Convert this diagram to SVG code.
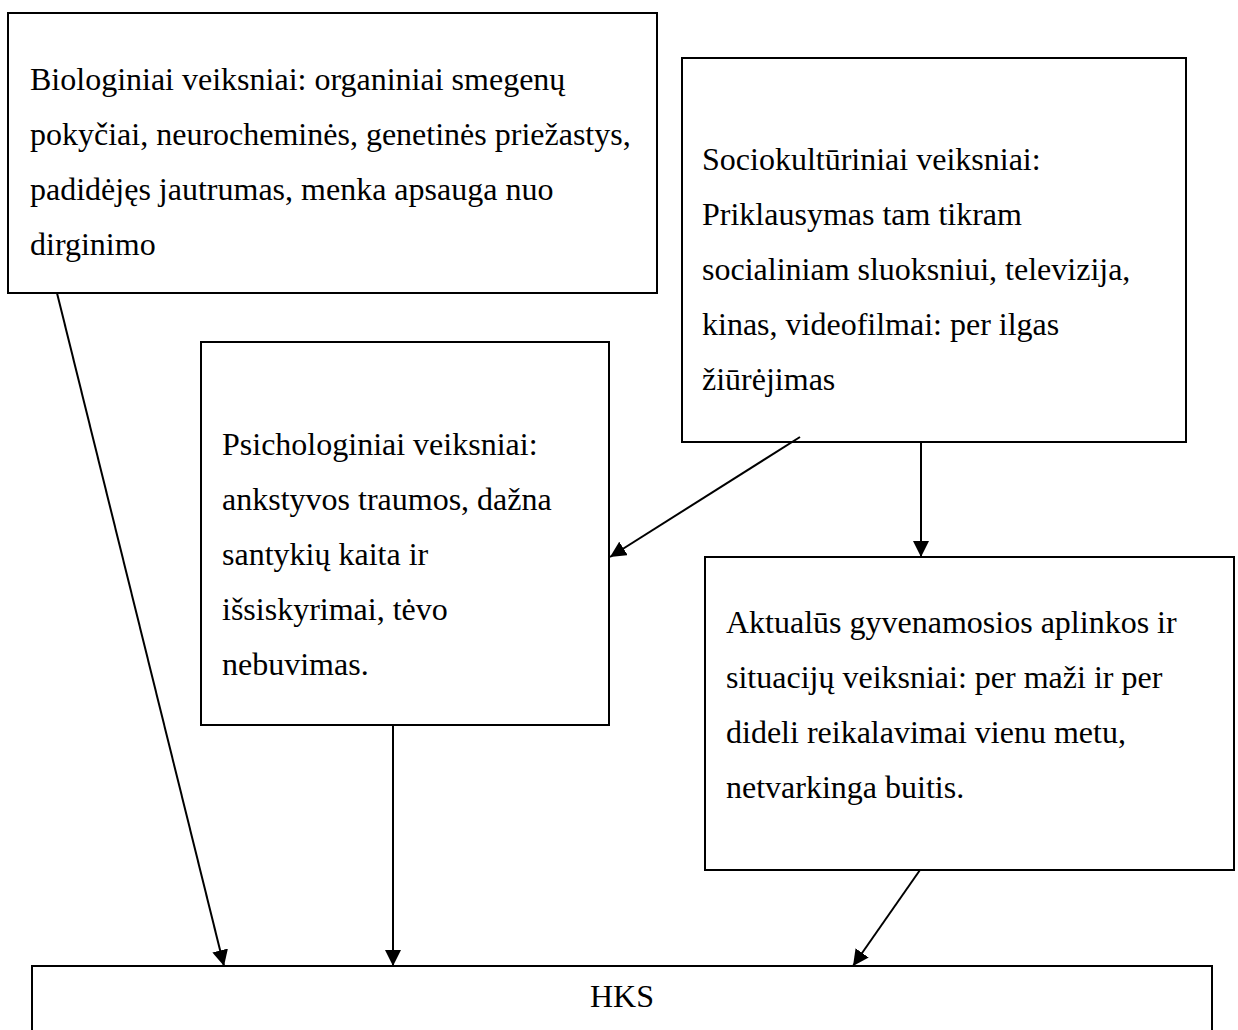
<svg xmlns="http://www.w3.org/2000/svg" width="1238" height="1030" viewBox="0 0 1238 1030">
<style>
.box{fill:#ffffff;stroke:#000000;stroke-width:2}
.t{font-family:"Liberation Serif","Times New Roman",serif;font-size:32px;fill:#000000}
.c{fill:none;stroke:#000000;stroke-width:2}
</style>
<defs>
<marker id="arr" markerUnits="userSpaceOnUse" markerWidth="16" markerHeight="16" viewBox="0 0 15 15" refX="15" refY="7.5" orient="auto">
<path d="M0,0 L15,7.5 L0,15 z" fill="#000000"/>
</marker>
</defs>
<rect width="1238" height="1030" fill="#ffffff"/>
<g id="bio">
<rect class="box" x="8" y="13" width="649" height="280"/>
<text class="t" x="30" y="90">Biologiniai veiksniai: organiniai smegenų</text>
<text class="t" x="30" y="145">pokyčiai, neurocheminės, genetinės priežastys,</text>
<text class="t" x="30" y="200">padidėjęs jautrumas, menka apsauga nuo</text>
<text class="t" x="30" y="255">dirginimo</text>
</g>
<g id="socio">
<rect class="box" x="682" y="58" width="504" height="384"/>
<text class="t" x="702" y="170">Sociokultūriniai veiksniai:</text>
<text class="t" x="702" y="225">Priklausymas tam tikram</text>
<text class="t" x="702" y="280">socialiniam sluoksniui, televizija,</text>
<text class="t" x="702" y="335">kinas, videofilmai: per ilgas</text>
<text class="t" x="702" y="390">žiūrėjimas</text>
</g>
<g id="psych">
<rect class="box" x="201" y="342" width="408" height="383"/>
<text class="t" x="222" y="455">Psichologiniai veiksniai:</text>
<text class="t" x="222" y="510">ankstyvos traumos, dažna</text>
<text class="t" x="222" y="565">santykių kaita ir</text>
<text class="t" x="222" y="620">išsiskyrimai, tėvo</text>
<text class="t" x="222" y="675">nebuvimas.</text>
</g>
<g id="aplinka">
<rect class="box" x="705" y="557" width="529" height="313"/>
<text class="t" x="726" y="633">Aktualūs gyvenamosios aplinkos ir</text>
<text class="t" x="726" y="688">situacijų veiksniai: per maži ir per</text>
<text class="t" x="726" y="743">dideli reikalavimai vienu metu,</text>
<text class="t" x="726" y="798">netvarkinga buitis.</text>
</g>
<g id="hks">
<rect class="box" x="32" y="966" width="1180" height="80"/>
<text class="t" x="622" y="1007" text-anchor="middle">HKS</text>
</g>
<g id="connectors">
<line class="c" x1="57" y1="293" x2="224" y2="966" marker-end="url(#arr)"/>
<line class="c" x1="393" y1="725" x2="393" y2="966" marker-end="url(#arr)"/>
<line class="c" x1="920" y1="870" x2="853" y2="966" marker-end="url(#arr)"/>
<line class="c" x1="800" y1="437" x2="610" y2="557" marker-end="url(#arr)"/>
<line class="c" x1="921" y1="442" x2="921" y2="557" marker-end="url(#arr)"/>
</g>
</svg>
